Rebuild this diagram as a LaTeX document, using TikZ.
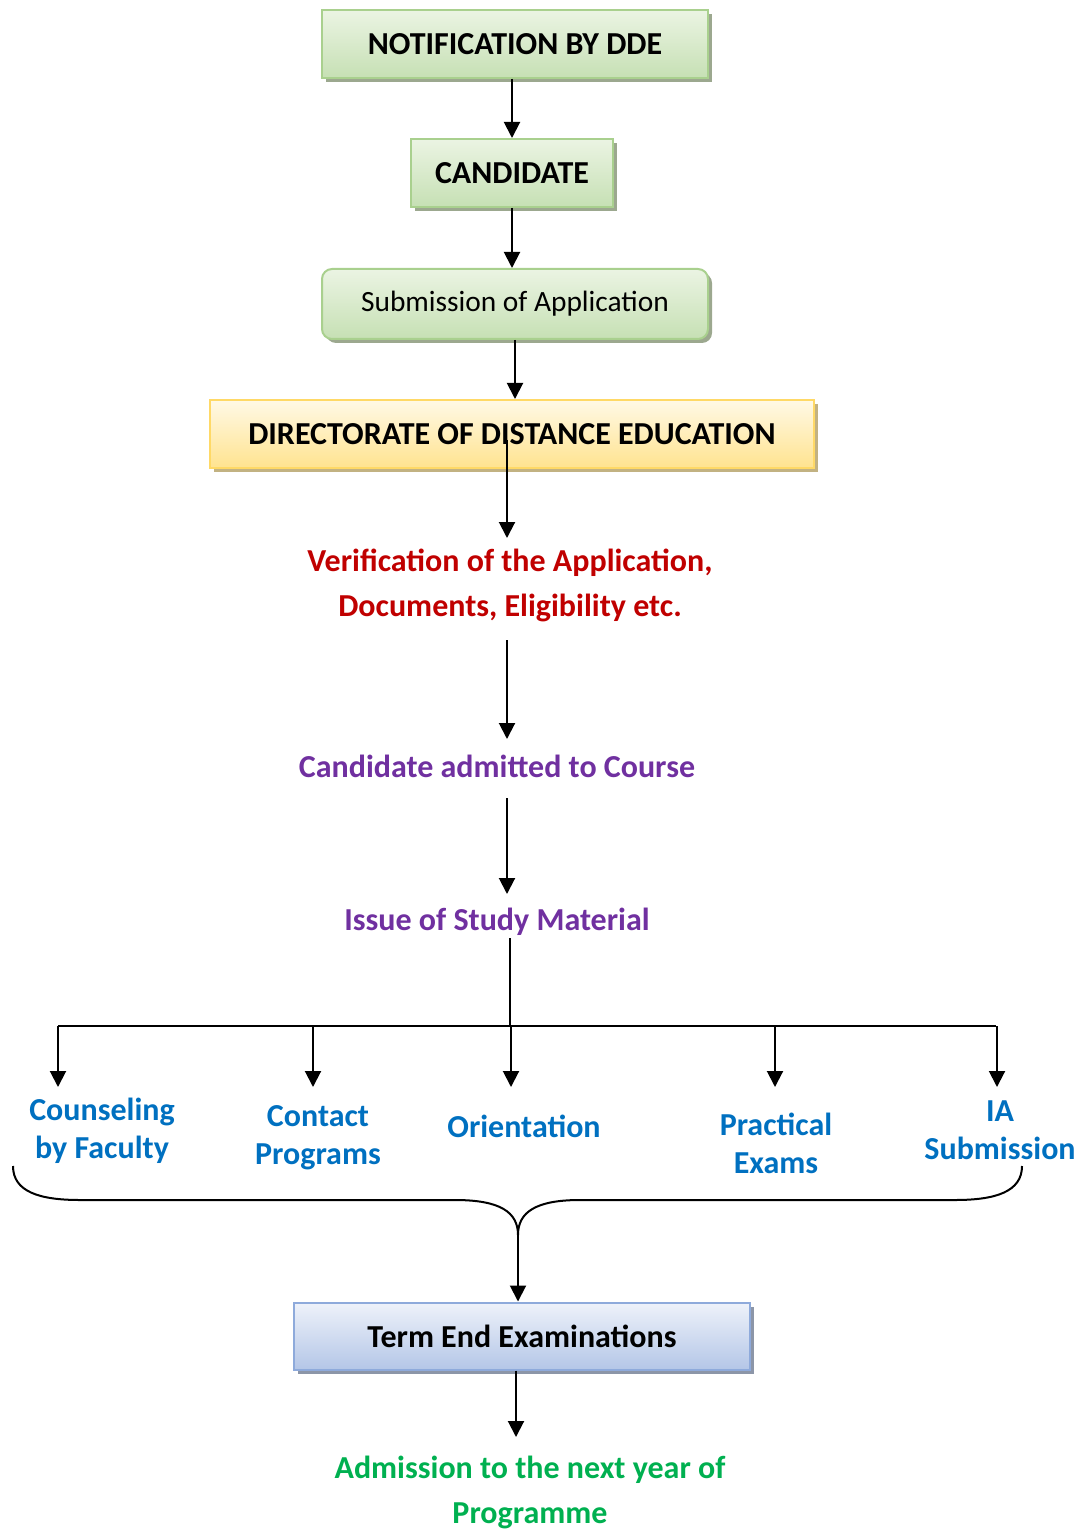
\documentclass[tikz,border=0pt]{standalone}
\usepackage{fontspec}
\setmainfont{Carlito}
\usepackage{xcolor}
\usetikzlibrary{calc,arrows.meta,shadows}

\definecolor{grnline}{HTML}{A9D08E}
\definecolor{grntop}{HTML}{EBF4E3}
\definecolor{grnbot}{HTML}{C6E0B4}
\definecolor{grnshd}{HTML}{9CA88F}
\definecolor{ylwline}{HTML}{FFD966}
\definecolor{ylwtop}{HTML}{FFF9E6}
\definecolor{ylwbot}{HTML}{FFE38F}
\definecolor{ylwshd}{HTML}{C2B282}
\definecolor{bluline}{HTML}{8EAADB}
\definecolor{blutop}{HTML}{EEF2FA}
\definecolor{blubot}{HTML}{B4C6E7}
\definecolor{blushd}{HTML}{8C96A8}
\definecolor{redtxt}{HTML}{C00000}
\definecolor{purtxt}{HTML}{7030A0}
\definecolor{blutxt}{HTML}{0070C0}
\definecolor{grntxt}{HTML}{00B050}

\tikzset{
  arr/.style={line width=1pt,-{Triangle[length=8pt,width=8pt]}},
  stepbox/.style={draw=#1line,line width=1pt,top color=#1top,bottom color=#1bot,
    drop shadow={shadow xshift=2pt,shadow yshift=-2pt,fill=#1shd,opacity=1},
    minimum height=34pt,font=\fontsize{16}{19}\selectfont\bfseries},
  txt/.style={text=#1,align=center,font=\fontsize{16}{22.5}\selectfont\bfseries},
  act/.style={text=blutxt,align=center,font=\fontsize{16}{19}\selectfont\bfseries}
}

\begin{document}
\begin{tikzpicture}[x=0.5pt,y=-0.5pt]
  \useasboundingbox (0,0) rectangle (1086,1529);

  % Boxes at the top
  \node[stepbox=grn,minimum width=193pt] (notif) at (515,44) {NOTIFICATION BY DDE};
  \node[stepbox=grn,minimum width=101pt] (cand) at (512,173) {CANDIDATE};
  \node[stepbox=grn,minimum width=193pt,minimum height=35pt,rounded corners=5pt,
        font=\fontsize{14.7}{18}\selectfont] (subm) at (515,304) {Submission of Application};
  \node[stepbox=ylw,minimum width=302pt] (dde) at (512,434) {DIRECTORATE OF DISTANCE EDUCATION};

  % Arrows between boxes
  \draw[arr] (notif.south -| cand.north) -- (cand.north);
  \draw[arr] (cand.south) -- (cand.south |- subm.north);
  \draw[arr] (subm.south) -- (subm.south |- dde.north);

  % Steps in the directorate
  \node[txt=redtxt] (verif) at (510,585) {Verification of the Application,\\Documents, Eligibility etc.};
  \node[txt=purtxt] (admit) at (497,766) {Candidate admitted to Course};
  \node[txt=purtxt] (issue) at (497,922) {Issue of Study Material};

  \coordinate (ddeIn) at (507,440);
  \coordinate (verifTop) at (507,538);
  \coordinate (verifBot) at (507,640);
  \coordinate (admitTop) at (507,739);
  \coordinate (admitBot) at (507,798);
  \coordinate (issueTop) at (507,894);
  \draw[arr] (ddeIn) -- (verifTop);
  \draw[arr] (verifBot) -- (admitTop);
  \draw[arr] (admitBot) -- (issueTop);

  % Bus line
  \coordinate (issueBot) at (510,938);
  \coordinate (busL) at (58,1026);
  \coordinate (busR) at (996,1026);
  \draw[line width=1pt] (issueBot) -- (issueBot |- busL);
  \draw[line width=1pt] (busL) -- (busR);

  % Activities
  \node[act] (couns) at (102,1131) {Counseling\\by Faculty};
  \node[act] (cont) at (318,1138) {Contact\\Programs};
  \node[act] (orient) at (524,1126) {Orientation};
  \node[act] (pract) at (776,1143) {Practical\\Exams};
  \node[act] (ia) at (1000,1130) {IA\\Submission};

  \foreach \x/\n in {58/a1,313/a2,511/a3,775/a4,997/a5}{
    \coordinate (\n) at (\x,1087);
    \draw[arr] (\n |- busL) -- (\n);
  }

  % Brace under the activities
  \coordinate (tip) at (518,1235);
  \draw[line width=1pt]
    (13,1166) .. controls (13,1192) and (40,1200) .. (80,1200) -- (455,1200)
    .. controls (500,1200) and (518,1212) .. (tip)
    .. controls (518,1212) and (536,1200) .. (580,1200) -- (955,1200)
    .. controls (995,1200) and (1022,1192) .. (1022,1166);

  % Term end
  \node[stepbox=blu,minimum width=228pt,minimum height=33.5pt] (term) at (522,1336) {Term End Examinations};
  \draw[arr] (tip) -- (tip |- term.north);

  \node[txt=grntxt] (next) at (530,1492) {Admission to the next year of\\Programme};
  \coordinate (nextTop) at (516,1437);
  \draw[arr] (term.south -| nextTop) -- (nextTop);

\end{tikzpicture}
\end{document}
